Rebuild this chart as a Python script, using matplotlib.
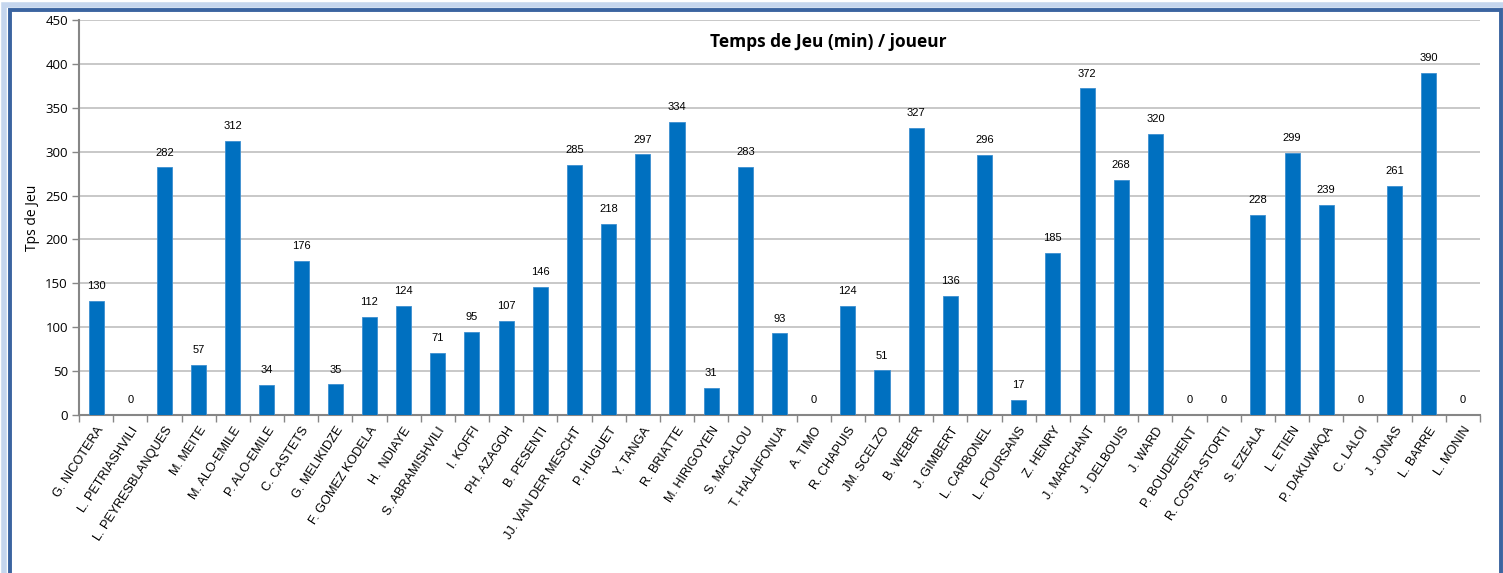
import matplotlib
matplotlib.use("Agg")
import matplotlib.pyplot as plt
from matplotlib.patches import Rectangle

players = ["G. NICOTERA", "L. PETRIASHVILI", "L. PEYRESBLANQUES", "M. MEITE", "M. ALO-EMILE",
           "P. ALO-EMILE", "C. CASTETS", "G. MELIKIDZE", "F. GOMEZ KODELA", "H.  NDIAYE",
           "S. ABRAMISHVILI", "I. KOFFI", "PH. AZAGOH", "B. PESENTI", "JJ. VAN DER MESCHT",
           "P. HUGUET", "Y. TANGA", "R. BRIATTE", "M. HIRIGOYEN", "S. MACALOU",
           "T. HALAIFONUA", "A. TIMO", "R. CHAPUIS", "JM. SCELZO", "B. WEBER",
           "J. GIMBERT", "L. CARBONEL", "L. FOURSANS", "Z. HENRY", "J. MARCHANT",
           "J. DELBOUIS", "J. WARD", "P. BOUDEHENT", "R. COSTA-STORTI", "S. EZEALA",
           "L. ETIEN", "P. DAKUWAQA", "C. LALOI", "J. JONAS", "L. BARRE", "L. MONIN"]
minutes = [130, 0, 282, 57, 312, 34, 176, 35, 112, 124,
           71, 95, 107, 146, 285, 218, 297, 334, 31, 283,
           93, 0, 124, 51, 327, 136, 296, 17, 185, 372,
           268, 320, 0, 0, 228, 299, 239, 0, 261, 390, 0]
yticks = [0, 50, 100, 150, 200, 250, 300, 350, 400, 450]

W, H = 1503, 573
fig = plt.figure(figsize=(W / 100, H / 100), dpi=100)
ax = fig.add_axes([79 / W, 1 - 415 / H, (1480 - 79) / W, (415 - 20) / H])

n = len(players)
x = list(range(n))
ax.bar(x, minutes, width=0.44, color="#0070C0", edgecolor="#3d8fd0", linewidth=0.6, zorder=3)
for xi, v in zip(x, minutes):
    ax.annotate(str(v), (xi, v), xytext=(0, 7), textcoords="offset points",
                ha="center", va="bottom", fontsize=8, family="Liberation Sans", color="#000000")

ax.set_xlim(-0.5, n - 0.5)
ax.set_ylim(0, 450)
ax.set_yticks(yticks)
ax.set_yticklabels([str(t) for t in yticks], fontsize=9.5, family="Open Sans")
ax.yaxis.grid(True, color="#BFBFBF", linewidth=1.2, zorder=0)
ax.set_axisbelow(True)

ax.set_xticks(x)
ax.set_xticklabels(players, rotation=57, ha="right", rotation_mode="anchor",
                   fontsize=9.1, family="Liberation Sans")
ax.tick_params(axis="x", length=0, pad=7)
ax.set_xticks([i - 0.5 for i in range(n + 1)], minor=True)
ax.tick_params(axis="x", which="minor", length=5, color="#868686", width=1)
ax.tick_params(axis="y", length=5, color="#868686", width=1, pad=3)

for s in ["top", "right"]:
    ax.spines[s].set_visible(False)
for s in ["left", "bottom"]:
    ax.spines[s].set_color("#868686")
    ax.spines[s].set_linewidth(1.5)

ax.set_ylabel("Tps de Jeu", fontsize=10, family="Open Sans", labelpad=4)
fig.text(828 / W, 1 - 42 / H, "Temps de Jeu (min) / joueur", ha="center", va="center",
         fontsize=12.5, fontweight="bold", family="Open Sans")

# outer frame
glow = Rectangle((4 / W, -0.1), (W - 4) / W, 1.1 - 5 / H, transform=fig.transFigure,
                 fill=False, edgecolor="#c5d6ee", linewidth=4, zorder=0)
frame = Rectangle((9.5 / W, -0.1), (1501 - 9.5) / W, 1.1 - 10.5 / H, transform=fig.transFigure,
                  fill=False, edgecolor="#3B64A0", linewidth=2.8, zorder=1)
fig.patches.extend([glow, frame])

fig.savefig("out.png", dpi=100)
